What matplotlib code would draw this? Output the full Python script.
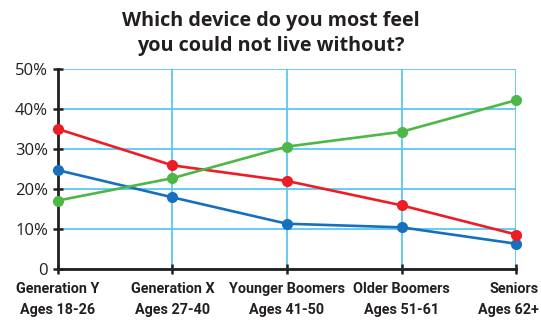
import matplotlib.pyplot as plt
from matplotlib.transforms import ScaledTranslation

plt.rcParams['font.family'] = ['Open Sans', 'DejaVu Sans']

groups = ['Generation Y\nAges 18-26', 'Generation X\nAges 27-40', 'Younger Boomers\nAges 41-50',
          'Older Boomers\nAges 51-61', 'Seniors\nAges 62+']
blue_vals = [24.7, 17.9, 11.3, 10.4, 6.3]
red_vals = [35.0, 25.9, 22.0, 15.9, 8.6]
green_vals = [17.1, 22.7, 30.6, 34.3, 42.2]
yticks = [0, 10, 20, 30, 40, 50]
ylabels = ['0', '10%', '20%', '30%', '40%', '50%']

fig = plt.figure(figsize=(5.41, 3.24), dpi=100)
ax = fig.add_axes([0.107, 0.170, 0.847, 0.617])

x = range(len(groups))
for vals, c in [(blue_vals, '#1670BE'), (red_vals, '#EE1C25'), (green_vals, '#4DB848')]:
    ax.plot(x, vals, color=c, lw=1.9, marker='o', ms=7, zorder=3, clip_on=False)

ax.set_xlim(0, len(groups) - 1)
ax.set_ylim(0, 50)
ax.set_yticks(yticks)
ax.set_yticklabels(ylabels, fontsize=12, color='#231F20')
ax.set_xticks(list(x))
ax.set_xticklabels(groups, fontsize=10.4, fontweight='bold', color='#231F20', linespacing=1.65,
                   family=['Roboto', 'DejaVu Sans'])
ax.grid(True, color='#5BC8F0', lw=1.3, zorder=0)
ax.tick_params(direction='inout', length=7, width=1.8, color='#231F20')
ax.tick_params(axis='x', pad=6)
# last label sits right-aligned near the figure edge
last = ax.get_xticklabels()[-1]
last.set_horizontalalignment('right')
last.set_multialignment('right')
last.set_transform(last.get_transform() + ScaledTranslation(0.23, 0, fig.dpi_scale_trans))
for s in ['top', 'right']:
    ax.spines[s].set_visible(False)
for s in ['left', 'bottom']:
    ax.spines[s].set_linewidth(2)
    ax.spines[s].set_color('#231F20')

fig.suptitle('Which device do you most feel\nyou could not live without?', y=0.965,
             fontsize=14.2, fontweight='bold', color='#231F20', linespacing=1.3)

plt.savefig('out.png', dpi=100)
